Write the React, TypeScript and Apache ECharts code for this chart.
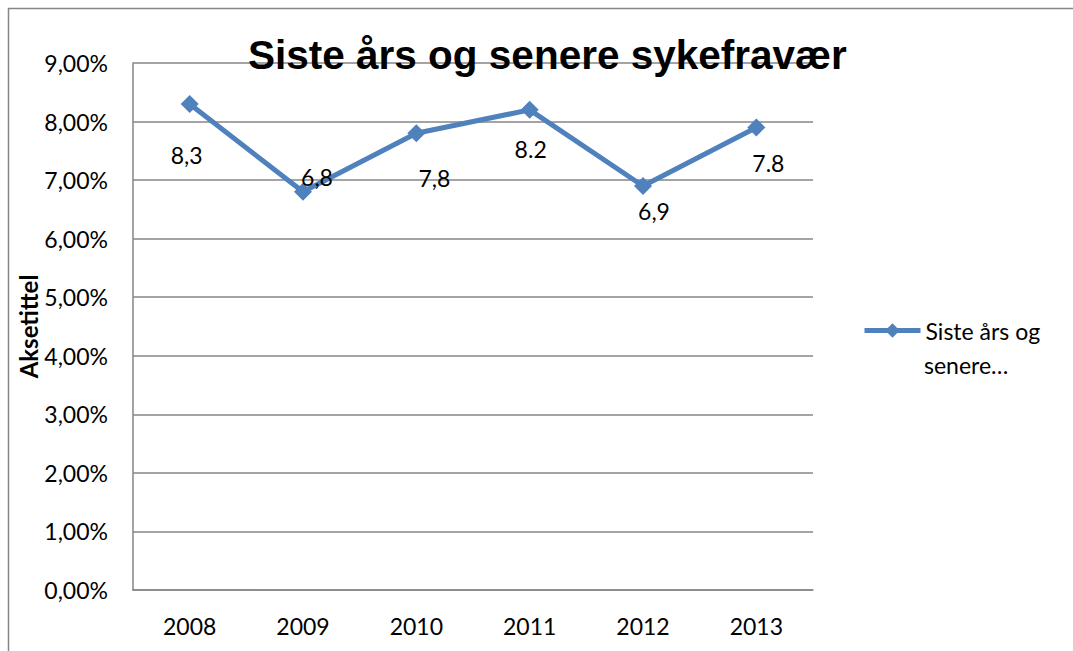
import React, { useEffect, useRef } from "react";
import * as echarts from "echarts";

const categories = ["2008", "2009", "2010", "2011", "2012", "2013"];
const values = [8.3, 6.8, 7.8, 8.2, 6.9, 7.9];
const labelTexts = ["8,3", "6,8", "7,8", "8.2", "6,9", "7.8"];
const seriesName = "Siste års og senere sykefravær";
const legendLine1 = "Siste års og";
const legendLine2 = "senere…";
const yAxisName = "Aksetittel";
const yMin = 0;
const yMax = 9;
const yStep = 1;

// label placement (styling)
const labelOffsets: [number, number][] = [
  [-3, 51],
  [14, -15],
  [18, 45],
  [1, 39],
  [11, 25],
  [12, 36],
];

const FONT = "Lato, 'Noto Sans', sans-serif";
const GRAY = "#868686";
const BLUE = "#4F81BD";

export default function App() {
  const ref = useRef<HTMLDivElement>(null);
  useEffect(() => {
    if (!ref.current) return;
    const chart = echarts.init(ref.current, undefined, { renderer: "svg" });
    chart.setOption({
      animation: false,
      backgroundColor: "#ffffff",
      title: {
        text: seriesName,
        left: 248,
        top: 34,
        padding: 0,
        textStyle: {
          fontFamily: "'Liberation Sans', Arial, sans-serif",
          fontWeight: "bold",
          fontSize: 40.5,
          color: "#000",
        },
      },
      graphic: [
        {
          type: "rect",
          shape: { x: 8.5, y: 8.5, width: 1080, height: 700 },
          style: { fill: "none", stroke: GRAY, lineWidth: 1.5 },
          silent: true,
        },
        {
          type: "text",
          x: 924,
          y: 365,
          style: {
            text: legendLine2,
            fontFamily: FONT,
            fontSize: 23,
            fill: "#000",
            verticalAlign: "middle",
            align: "left",
          },
          silent: true,
        },
      ],
      legend: {
        left: 862,
        top: 319,
        padding: 0,
        orient: "vertical",
        itemWidth: 56,
        itemHeight: 18,
        itemGap: 0,
        formatter: () => legendLine1,
        textStyle: {
          fontFamily: FONT,
          fontSize: 23,
          color: "#000",
          lineHeight: 23,
        },
        lineStyle: { width: 5 },
        data: [seriesName],
      },
      grid: { left: 133, top: 63, right: 260, bottom: 61, containLabel: false },
      xAxis: {
        type: "category",
        data: categories,
        boundaryGap: true,
        axisLine: { show: true, lineStyle: { color: GRAY, width: 1.5 } },
        axisTick: { show: false },
        axisLabel: { fontFamily: FONT, fontSize: 23, color: "#000", margin: 24 },
        splitLine: { show: false },
      },
      yAxis: {
        type: "value",
        min: yMin,
        max: yMax,
        interval: yStep,
        name: yAxisName,
        nameLocation: "middle",
        nameGap: 93,
        nameRotate: 90,
        nameMoveOverlap: false,
        nameTextStyle: { fontFamily: FONT, fontWeight: "bold", fontSize: 24, color: "#000" },
        axisLine: { show: true, lineStyle: { color: GRAY, width: 1.5 } },
        axisTick: { show: false },
        axisLabel: {
          fontFamily: FONT,
          fontSize: 23,
          color: "#000",
          margin: 25,
          formatter: (v: number) => v.toFixed(2).replace(".", ",") + "%",
        },
        splitLine: { show: true, lineStyle: { color: GRAY, width: 1.5 } },
      },
      series: [
        {
          name: seriesName,
          type: "line",
          symbol: "diamond",
          symbolSize: 18,
          itemStyle: { color: BLUE },
          lineStyle: { color: BLUE, width: 5 },
          data: values.map((v, i) => ({
            value: v,
            label: {
              show: true,
              position: "inside",
              offset: labelOffsets[i],
              formatter: () => labelTexts[i],
              fontFamily: FONT,
              fontSize: 23,
              color: "#000",
            },
          })),
        },
      ],
    });
    return () => chart.dispose();
  }, []);
  return (
    <div
      ref={ref}
      style={{ position: "absolute", left: 0, top: 0, width: 1073, height: 651 }}
    />
  );
}
